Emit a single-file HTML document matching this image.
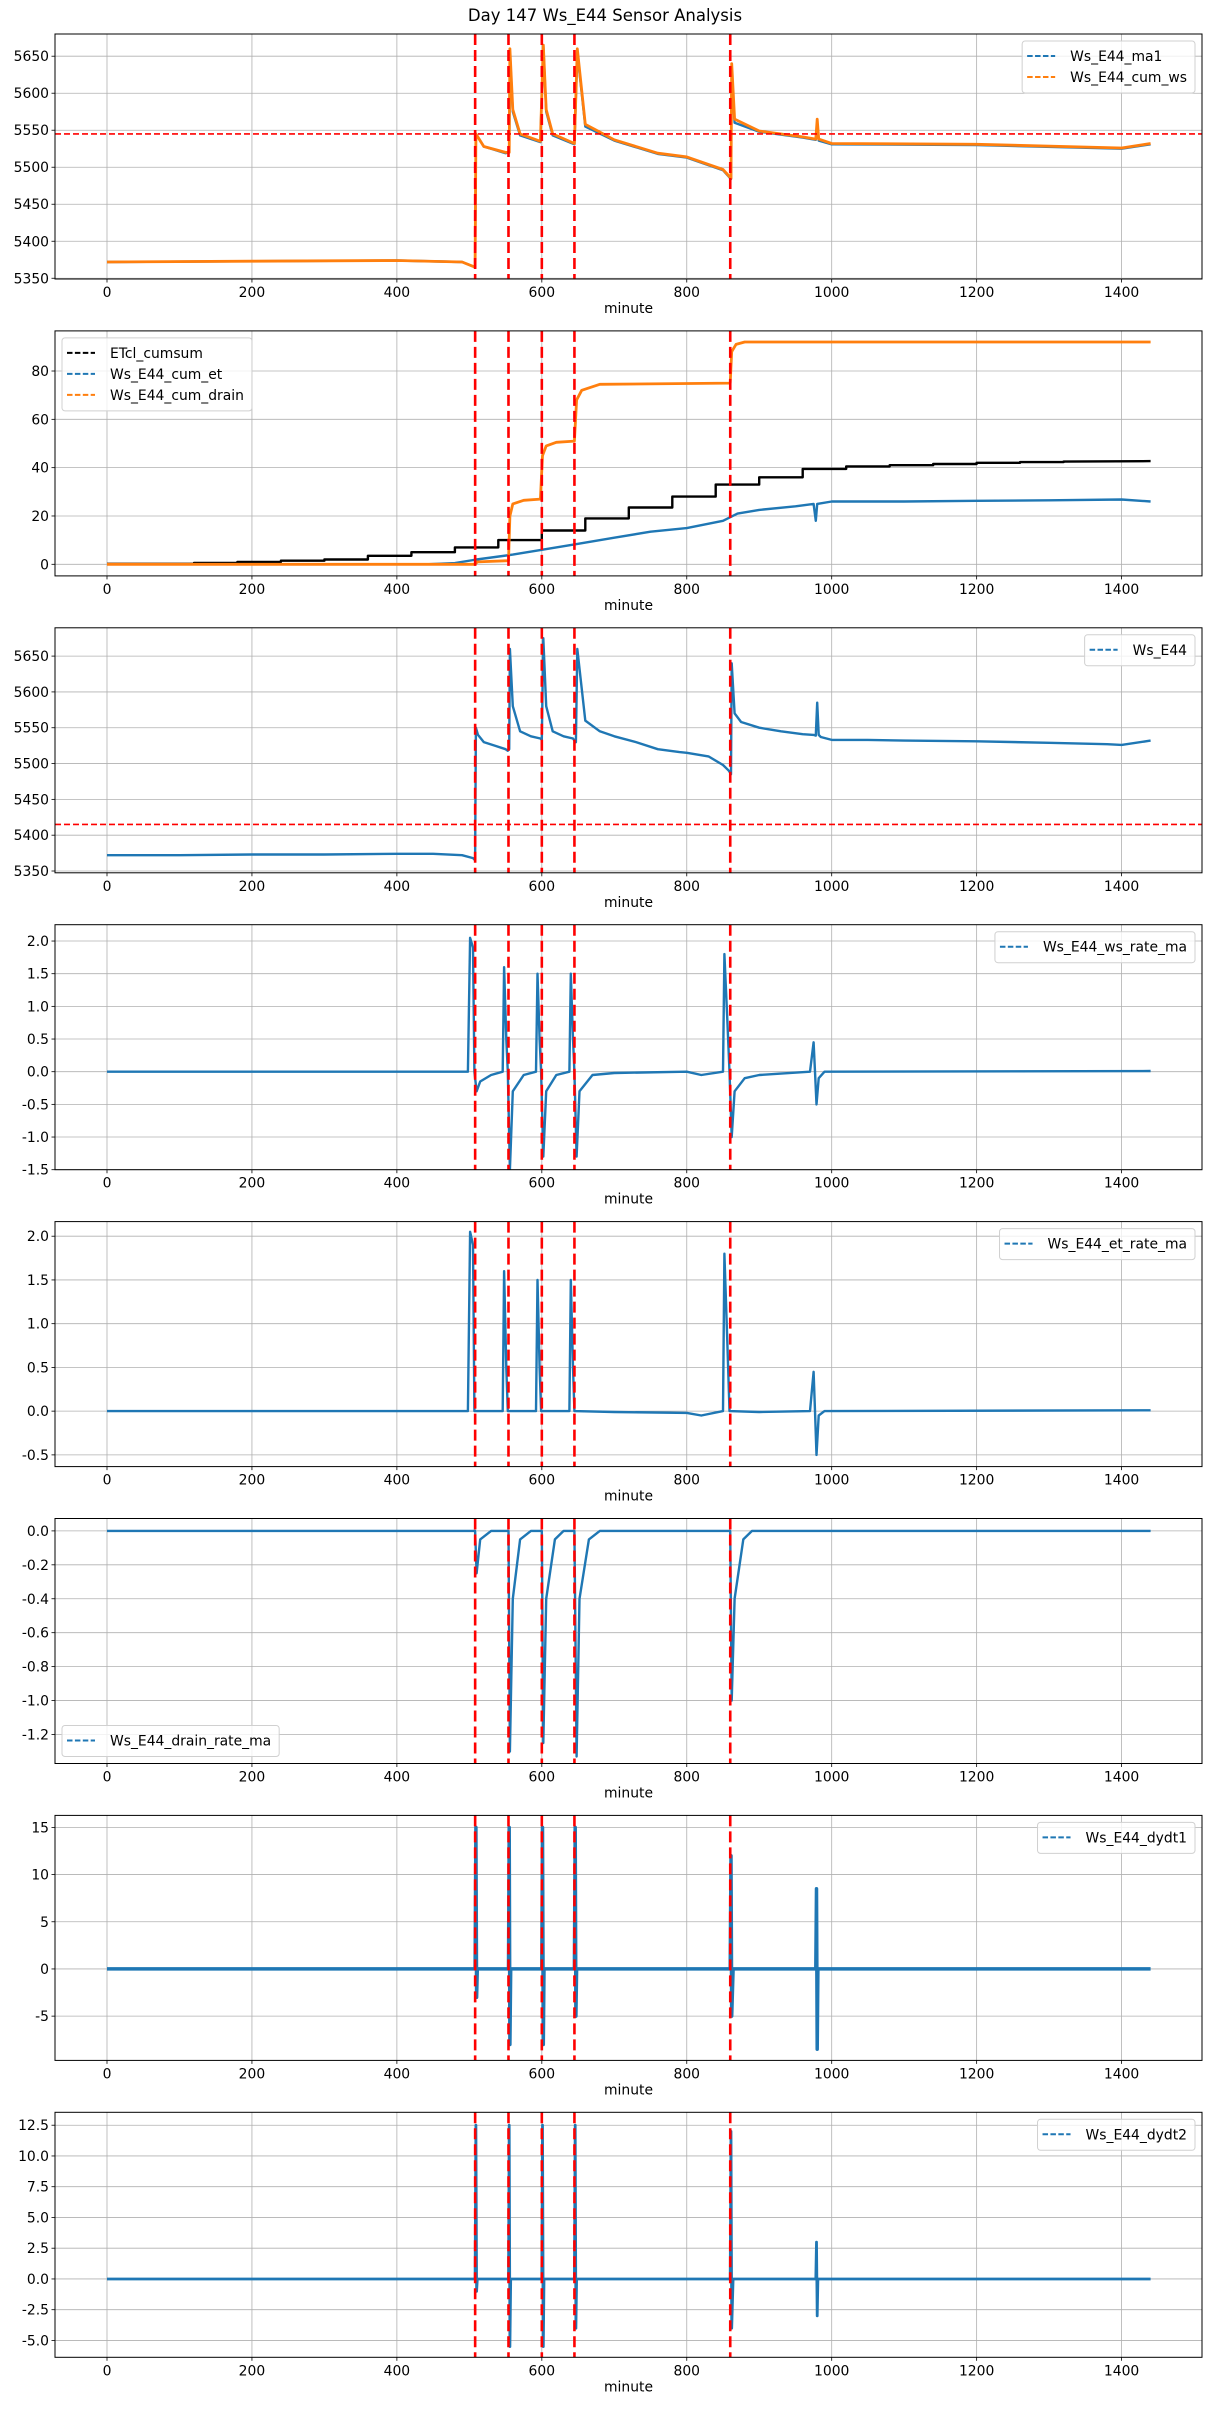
<!DOCTYPE html>
<html><head><meta charset="utf-8"><title>Day 147 Ws_E44 Sensor Analysis</title>
<style>
html,body{margin:0;padding:0;background:#fff;}
svg{display:block;font-family:"DejaVu Sans","Liberation Sans",sans-serif;}
</style></head>
<body>
<svg id="fig" width="1211" height="2411" viewBox="0 0 1211 2411" xmlns="http://www.w3.org/2000/svg">
<rect width="1211" height="2411" fill="#fff"/>
<text x="605" y="21" text-anchor="middle" font-size="16.5" fill="#000">Day 147 Ws_E44 Sensor Analysis</text>
</svg>
<script>
// ---------- data ----------
const xTicks = [0,200,400,600,800,1000,1200,1400];
const eventMinutes = [508,554,600,645,860];
const wsE44 = [[0,5372],[100,5372],[200,5373],[300,5373],[400,5374],[450,5374],[490,5372],[505,5368],[508,5365],[509,5550],[512,5540],[520,5530],[535,5525],[550,5520],[553,5518],[555,5520],[556,5660],[560,5580],[570,5545],[585,5538],[598,5535],[600,5533],[602,5675],[606,5580],[615,5545],[630,5538],[643,5535],[645,5532],[647,5530],[649,5660],[660,5560],[680,5545],[700,5538],[730,5530],[760,5520],[790,5516],[800,5515],[830,5510],[850,5498],[858,5490],[860,5487],[861,5485],[862,5640],[866,5570],[875,5558],[900,5550],[930,5545],[960,5541],[975,5540],[978,5539],[980,5585],[982,5540],[985,5537],[1000,5533],[1050,5533],[1100,5532],[1200,5531],[1300,5529],[1380,5527],[1400,5526],[1440,5532]];
const wsMa1 = [[0,5372],[200,5373],[400,5374],[490,5372],[508,5365],[509,5545],[520,5528],[550,5519],[555,5520],[556,5655],[560,5575],[570,5543],[598,5534],[602,5665],[606,5575],[615,5543],[645,5531],[649,5655],[660,5555],[700,5536],[760,5518],[800,5513],[850,5496],[861,5484],[862,5630],[866,5560],[900,5548],[960,5540],[978,5537],[980,5560],[982,5536],[1000,5531],[1200,5530],[1400,5525],[1440,5531]];
const cumWs = [[0,5372],[200,5373],[400,5374],[490,5372],[508,5365],[509,5545],[520,5528],[550,5520],[555,5520],[556,5660],[560,5578],[570,5545],[598,5535],[602,5665],[606,5578],[615,5545],[645,5532],[649,5660],[660,5558],[700,5537],[760,5519],[800,5514],[850,5497],[861,5485],[862,5640],[866,5565],[900,5549],[960,5541],[978,5538],[980,5565],[982,5538],[1000,5532],[1200,5531],[1400,5526],[1440,5532]];
const etclCumsum = [[0,0.2],[120,0.2],[120,0.6],[180,0.6],[180,1],[240,1],[240,1.5],[300,1.5],[300,2],[360,2],[360,3.5],[420,3.5],[420,5],[480,5],[480,7],[540,7],[540,10],[600,10],[600,14],[660,14],[660,19],[720,19],[720,23.5],[780,23.5],[780,28],[840,28],[840,33],[900,33],[900,36],[960,36],[960,39.5],[1020,39.5],[1020,40.5],[1080,40.5],[1080,41],[1140,41],[1140,41.5],[1200,41.5],[1200,42],[1260,42],[1260,42.3],[1320,42.3],[1320,42.5],[1440,42.7]];
const cumEt = [[0,0],[440,0],[480,0.5],[510,2],[560,4],[600,6],[650,8.5],[700,11],[750,13.5],[800,15],[850,18],[870,21],[900,22.5],[950,24],[975,25],[978,18],[980,25],[1000,26],[1100,26],[1200,26.3],[1300,26.5],[1400,26.8],[1440,26]];
const cumDrain = [[0,0],[508,0],[511,1],[554,1.5],[556,20],[560,25],[575,26.5],[598,27],[601,45],[606,49],[620,50.5],[645,51],[648,68],[655,72],[680,74.5],[860,75],[862,88],[868,91],[880,92],[1440,92]];
const wsRate = [[0,0],[498,0],[501,2.05],[505,1.9],[507,0],[510,-0.3],[515,-0.15],[530,-0.05],[546,0],[548,1.6],[551,0.5],[553,0],[556,-1.5],[560,-0.3],[575,-0.05],[592,0],[594,1.5],[597,0.5],[599,0],[602,-1.3],[606,-0.3],[620,-0.05],[638,0],[640,1.5],[643,0.5],[645,0],[648,-1.3],[652,-0.3],[670,-0.05],[700,-0.02],[800,0],[820,-0.05],[850,0],[852,1.8],[856,0.8],[859,0],[862,-1.0],[866,-0.3],[880,-0.1],[900,-0.05],[970,0],[975,0.45],[977,0],[979,-0.5],[982,-0.1],[990,0],[1440,0.01]];
const etRate = [[0,0],[498,0],[501,2.05],[505,1.9],[507,0],[546,0],[548,1.6],[551,0.5],[553,0],[592,0],[594,1.5],[597,0.5],[599,0],[638,0],[640,1.5],[643,0.5],[645,0],[700,-0.01],[800,-0.02],[820,-0.05],[850,0],[852,1.8],[856,0.8],[859,0],[900,-0.01],[970,0],[975,0.45],[977,0],[979,-0.5],[982,-0.05],[990,0],[1440,0.01]];
const drainRate = [[0,0],[508,0],[510,-0.25],[515,-0.05],[530,0],[554,0],[556,-1.3],[560,-0.4],[570,-0.05],[585,0],[600,0],[602,-1.25],[606,-0.4],[618,-0.05],[630,0],[645,0],[648,-1.33],[652,-0.4],[665,-0.05],[680,0],[860,0],[862,-1.0],[866,-0.4],[878,-0.05],[890,0],[1440,0]];
const dydt1 = [[0,0],[508,0],[509,15],[510,-3],[511,0],[554,0],[555,15],[556,-8],[557,0],[600,0],[601,15],[602,-8],[603,0],[645,0],[646,15],[647,-5],[648,0],[860,0],[861,12],[862,-5],[864,0],[978,0],[979,8.5],[980,-8.5],[981,0],[1440,0]];
const dydt2 = [[0,0],[508,0],[509,12.5],[510,-1],[511,0],[554,0],[555,12.5],[556,-5.5],[557,0],[600,0],[601,12.5],[602,-5.5],[603,0],[645,0],[646,12.5],[647,-4],[648,0],[860,0],[861,12],[862,-4],[864,0],[978,0],[979,3],[980,-3],[981,0],[1440,0]];
const p1Ticks = [5350,5400,5450,5500,5550,5600,5650];
const p2Ticks = [0,20,40,60,80];
const p4Ticks = [-1.5,-1.0,-0.5,0.0,0.5,1.0,1.5,2.0];
const p5Ticks = [-0.5,0.0,0.5,1.0,1.5,2.0];
const p6Ticks = [-1.2,-1.0,-0.8,-0.6,-0.4,-0.2,0.0];
const p7Ticks = [-5,0,5,10,15];
const p8Ticks = [-5,-2.5,0,2.5,5,7.5,10,12.5];
const p1Hline = 5545;
const p3Hline = 5415;

// ---------- drawing ----------
const NS = 'http://www.w3.org/2000/svg';
const svg = document.getElementById('fig');
const L = 55, R = 1202, X0 = 107, XS = 0.7247, H = 245, STEP = 296.9;
const sx = m => X0 + m * XS;
function el(tag, attrs, parent){ const e=document.createElementNS(NS,tag); for(const k in attrs) e.setAttribute(k,attrs[k]); (parent||svg).appendChild(e); return e; }
const BLUE='#1f77b4', ORANGE='#ff7f0e';

function panel(i, ymin, ymax, ticks, dec, series, opts){
  const top = 34 + i*STEP, bot = top + H;
  const sy = v => bot - (v - ymin)/(ymax - ymin)*H;
  const g = el('g', {});
  
  
  const cp = el('clipPath', {id:'c'+i}, g);
  el('rect', {x:L, y:top, width:R-L, height:H}, cp);
  xTicks.forEach(t => {
    const gl = el('line', {x1:sx(t), x2:sx(t), y1:top, y2:bot, stroke:'#b0b0b0', 'stroke-width':0.8}, g);
     
    el('line', {x1:sx(t), x2:sx(t), y1:bot, y2:bot+3.5, stroke:'#000', 'stroke-width':0.8}, g);
    const tl = el('text', {x:sx(t), y:bot+18, 'text-anchor':'middle', 'font-size':13.9, fill:'#000'}, g);
    tl.textContent = t;
     
  });
  ticks.forEach(t => {
    const y = sy(t);
    const gl = el('line', {x1:L, x2:R, y1:y, y2:y, stroke:'#b0b0b0', 'stroke-width':0.8}, g);
     
    el('line', {x1:L-3.5, x2:L, y1:y, y2:y, stroke:'#000', 'stroke-width':0.8}, g);
    const tl = el('text', {x:L-6, y:y+5, 'text-anchor':'end', 'font-size':13.9, fill:'#000'}, g);
    tl.textContent = t.toFixed(dec);
     
  });
  const xl = el('text', {x:(L+R)/2, y:bot+34, 'text-anchor':'middle', 'font-size':13.9, fill:'#000'}, g);
  xl.textContent = 'minute';
   
  const plot = el('g', {'clip-path':'url(#c'+i+')'}, g);
  series.forEach(s => {
    const pts = s.data.map(p => sx(p[0]).toFixed(1)+','+sy(p[1]).toFixed(1)).join(' ');
    const pl = el('polyline', {points:pts, fill:'none', stroke:s.color, 'stroke-width':s.w||2.4, 'stroke-linejoin':'round'}, plot);
     
  });
  if (opts.hline !== undefined) {
    const hl = el('line', {x1:L, x2:R, y1:sy(opts.hline), y2:sy(opts.hline), stroke:'red', 'stroke-width':1.6, 'stroke-dasharray':'6,3'}, plot);
     
  }
  eventMinutes.forEach(m => {
    const vl = el('line', {x1:sx(m), x2:sx(m), y1:top, y2:bot, stroke:'red', 'stroke-width':2.6, 'stroke-dasharray':'11,5'}, plot);
     
  });
  el('rect', {x:L, y:top, width:R-L, height:H, fill:'none', stroke:'#000', 'stroke-width':1}, g);
  // legend
  const n = series.length, lh = 21;
  const bh = 10 + n*lh;
  const lg = el('g', {}, g);
   
  const box = el('rect', {x:0, y:0, width:10, height:bh, rx:3, fill:'#fff', 'fill-opacity':0.8, stroke:'#d0d0d0', 'stroke-width':1}, lg);
  const texts = [], handles = [];
  let maxW = 0;
  series.forEach((s, k) => {
    const e = el('g', {}, lg);
     
    const h = el('line', {stroke:s.color, 'stroke-width':2, 'stroke-dasharray':'5.5,2.4'}, e);
    const t = el('text', {'font-size':13.9, fill:'#000'}, e);
    t.textContent = s.name;
    maxW = Math.max(maxW, t.getComputedTextLength());
    texts.push(t); handles.push(h);
  });
  const w = 48 + maxW + 8;
  let lx, ly;
  if (opts.legPos === 'ul') { lx = L+7; ly = top+7; }
  else if (opts.legPos === 'll') { lx = L+7; ly = bot-7-bh; }
  else { lx = R-7-w; ly = top+7; }
  box.setAttribute('x', lx); box.setAttribute('y', ly); box.setAttribute('width', w);
  series.forEach((s, k) => {
    const cy = ly + 15 + k*lh;
    handles[k].setAttribute('x1', lx+5); handles[k].setAttribute('x2', lx+33);
    handles[k].setAttribute('y1', cy); handles[k].setAttribute('y2', cy);
    texts[k].setAttribute('x', lx+48); texts[k].setAttribute('y', cy+5);
  });
}

panel(0, 5349, 5680, p1Ticks, 0, [
  {name:'Ws_E44_ma1', color:BLUE, data:wsMa1},
  {name:'Ws_E44_cum_ws', color:ORANGE, data:cumWs, w:2.8}
], {hline:p1Hline, legPos:'ur'});
panel(1, -4.8, 96.6, p2Ticks, 0, [
  {name:'ETcl_cumsum', color:'#000', data:etclCumsum},
  {name:'Ws_E44_cum_et', color:BLUE, data:cumEt},
  {name:'Ws_E44_cum_drain', color:ORANGE, data:cumDrain, w:2.8}
], {legPos:'ul'});
panel(2, 5347.5, 5689.5, p1Ticks, 0, [
  {name:'Ws_E44', color:BLUE, data:wsE44}
], {hline:p3Hline, legPos:'ur'});
panel(3, -1.5, 2.25, p4Ticks, 1, [
  {name:'Ws_E44_ws_rate_ma', color:BLUE, data:wsRate}
], {legPos:'ur'});
panel(4, -0.634, 2.167, p5Ticks, 1, [
  {name:'Ws_E44_et_rate_ma', color:BLUE, data:etRate}
], {legPos:'ur'});
panel(5, -1.371, 0.073, p6Ticks, 1, [
  {name:'Ws_E44_drain_rate_ma', color:BLUE, data:drainRate}
], {legPos:'ll'});
panel(6, -9.69, 16.27, p7Ticks, 0, [
  {name:'Ws_E44_dydt1', color:BLUE, data:dydt1, w:3.5}
], {legPos:'ur'});
panel(7, -6.37, 13.55, p8Ticks, 1, [
  {name:'Ws_E44_dydt2', color:BLUE, data:dydt2, w:2.8}
], {legPos:'ur'});
</script>
</body></html>
